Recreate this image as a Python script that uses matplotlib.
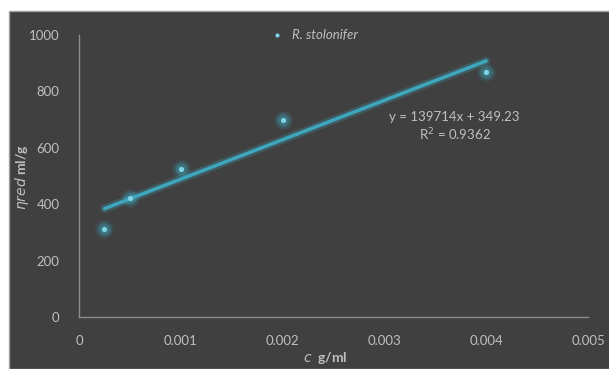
import matplotlib.pyplot as plt
from matplotlib.patches import Rectangle
import numpy as np

# data
conc = [0.00025, 0.0005, 0.001, 0.002, 0.004]
eta_red = [313, 422, 525, 699, 869]
slope, intercept = 139714, 349.23
x_ticks = [0, 0.001, 0.002, 0.003, 0.004, 0.005]
x_tick_labels = ['0', '0.001', '0.002', '0.003', '0.004', '0.005']
y_ticks = [0, 200, 400, 600, 800, 1000]

bg = '#404040'
txt = '#bfbfbf'
pt_col = '#7fd3e6'
line_col = '#3ea6bd'

plt.rcParams['font.family'] = ['Lato', 'DejaVu Sans']

fig = plt.figure(figsize=(6.09, 3.69), dpi=100)
fig.patch.set_facecolor('white')
fig.add_artist(Rectangle((9 / 609, 0), 1, 358 / 369, transform=fig.transFigure,
                         facecolor=bg, edgecolor='#a0a0a0', lw=1, zorder=0))

ax = fig.add_axes([79 / 609, 52 / 369, 509 / 609, 282 / 369])
ax.set_facecolor(bg)
ax.patch.set_alpha(0)

# trendline with glow
xl = np.array([conc[0], conc[-1]])
yl = slope * xl + intercept
ax.plot(xl, yl, color=line_col, lw=6, alpha=0.25, solid_capstyle='round', zorder=2)
ax.plot(xl, yl, color=line_col, lw=2.5, solid_capstyle='round', zorder=3)

# points with glow
for s, a in [(180, 0.12), (110, 0.2), (60, 0.3)]:
    ax.scatter(conc, eta_red, s=s, color=line_col, alpha=a, lw=0, zorder=4)
ax.scatter(conc, eta_red, s=14, color=pt_col, lw=0, zorder=5, label='R. stolonifer')

ax.set_xlim(0, 0.005)
ax.set_ylim(0, 1000)
ax.set_xticks(x_ticks)
ax.set_xticklabels(x_tick_labels)
ax.set_yticks(y_ticks)
ax.tick_params(colors=txt, length=0, labelsize=9.5)
ax.tick_params(axis='x', pad=13)
ax.tick_params(axis='y', pad=14)
for side in ['top', 'right']:
    ax.spines[side].set_visible(False)
for side in ['left', 'bottom']:
    ax.spines[side].set_color('#8c8c8c')
    ax.spines[side].set_linewidth(1)

fig.text(325 / 609, 11 / 369, r'$c$  g/ml', color=txt, fontsize=10, fontweight='bold',
         ha='center', va='center')
fig.text(22 / 609, 192 / 369, r'$\eta red$ ml/g', color=txt, fontsize=10, fontweight='bold',
         ha='center', va='center', rotation=90)

leg = ax.legend(loc='upper center', bbox_to_anchor=(0.455, 1.065), frameon=False,
                handletextpad=0.1, markerscale=0.8, prop={'style': 'italic', 'size': 9.5})
for t in leg.get_texts():
    t.set_color(txt)

ax.text(0.00369, 709, 'y = 139714x + 349.23', color=txt, fontsize=9.5, ha='center', va='center')
ax.text(0.00369, 645, 'R$^2$ = 0.9362', color=txt, fontsize=9.5, ha='center', va='center')

fig.savefig('out.png', dpi=100, facecolor=fig.get_facecolor())
